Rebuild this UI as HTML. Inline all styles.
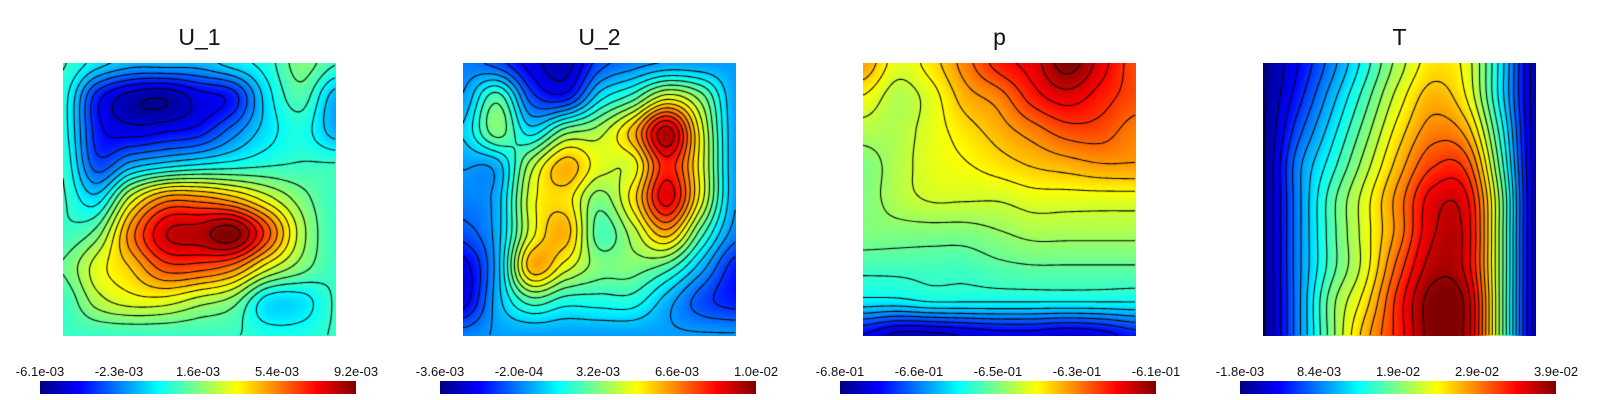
<!DOCTYPE html>
<html><head><meta charset="utf-8"><style>
body{margin:0;width:1600px;height:400px;background:#fff;position:relative;overflow:hidden;font-family:"Liberation Sans",sans-serif}
.panel{position:absolute;top:0;width:400px;height:400px}
.title{position:absolute;top:24px;left:0;width:273px;text-align:center;font-size:23px;color:#111}
canvas.field{position:absolute;top:63px;width:273px;height:273px}
.cbar{position:absolute;top:381px;width:316px;height:13px;background:linear-gradient(to right,#00007f,#0000ff 12.5%,#00ffff 37.5%,#7fff7f 50%,#ffff00 62.5%,#ff0000 87.5%,#7f0000)}
.tick{position:absolute;top:364px;font-size:13px;color:#111;transform:translateX(-50%);white-space:nowrap}
</style></head><body>
<script>
const titles=["U_1","U_2","p","T"];
const tickLabels=[["-6.1e-03","-2.3e-03","1.6e-03","5.4e-03","9.2e-03"],["-3.6e-03","-2.0e-04","3.2e-03","6.6e-03","1.0e-02"],["-6.8e-01","-6.6e-01","-6.5e-01","-6.3e-01","-6.1e-01"],["-1.8e-03","8.4e-03","1.9e-02","2.9e-02","3.9e-02"]];
const gridU1=[[.43,.35,.3,.3,.3,.35,.4,.5,.43],[.4,.15,.05,.03,.1,.15,.35,.45,.3],[.4,.15,.1,.12,.15,.25,.35,.4,.3],[.42,.2,.3,.35,.38,.4,.42,.43,.43],[.43,.35,.6,.75,.75,.7,.6,.5,.43],[.43,.5,.75,.92,.95,1.0,.8,.55,.43],[.48,.6,.68,.8,.8,.75,.6,.5,.43],[.43,.55,.6,.6,.55,.5,.35,.35,.43],[.43,.43,.43,.43,.43,.43,.4,.4,.43]];
const gridU2=[[.25,.2,.1,.05,.2,.25,.28,.28,.28],[.28,.45,.2,.15,.35,.45,.6,.5,.28],[.33,.5,.35,.5,.55,.7,.95,.6,.28],[.28,.3,.55,.7,.6,.6,.85,.6,.28],[.25,.3,.6,.65,.5,.65,.9,.6,.28],[.2,.3,.6,.7,.45,.55,.7,.45,.25],[.1,.3,.7,.6,.5,.5,.45,.3,.15],[.1,.3,.45,.4,.4,.4,.3,.2,.15],[.25,.28,.28,.28,.28,.28,.28,.28,.28]];
const gridP=[[.72,.6,.65,.75,.85,.9,1.0,.9,.8],[.62,.55,.6,.7,.75,.85,.9,.85,.8],[.55,.55,.6,.65,.7,.75,.8,.8,.75],[.5,.55,.6,.62,.65,.68,.7,.72,.72],[.5,.55,.58,.58,.58,.6,.6,.6,.6],[.5,.5,.5,.5,.52,.54,.54,.54,.54],[.44,.44,.44,.44,.46,.47,.47,.47,.47],[.36,.36,.38,.38,.38,.38,.38,.38,.38],[.12,.06,.06,.08,.1,.1,.08,.1,.15]];
const gridT=[[.02,.12,.25,.4,.55,.65,.6,.35,.05],[.02,.15,.3,.45,.6,.7,.62,.35,.05],[.02,.2,.35,.5,.65,.75,.7,.4,.05],[.02,.25,.4,.55,.7,.82,.8,.45,.05],[.02,.25,.45,.6,.75,.9,.88,.5,.05],[.02,.25,.45,.6,.75,.92,.9,.5,.05],[.02,.25,.45,.6,.8,.95,.9,.5,.05],[.02,.25,.5,.65,.85,1.0,.95,.5,.05],[.02,.25,.5,.7,.85,1.0,.95,.5,.05]];
const grids=[gridU1,gridU2,gridP,gridT];
const levelStep=[0.05,0.05,0.05,0.05];

function cr(p0,p1,p2,p3,t){return 0.5*((2*p1)+(-p0+p2)*t+(2*p0-5*p1+4*p2-p3)*t*t+(-p0+3*p1-3*p2+p3)*t*t*t);}
function sample(g,u,v){const n=g.length-1;const x=u*n,y=v*n;let i=Math.min(Math.floor(x),n-1),j=Math.min(Math.floor(y),n-1);const tx=x-i,ty=y-j;
 const G=(r,c)=>g[Math.max(0,Math.min(n,r))][Math.max(0,Math.min(n,c))];const rows=[];
 for(let k=-1;k<3;k++)rows.push(cr(G(j+k,i-1),G(j+k,i),G(j+k,i+1),G(j+k,i+2),tx));
 return Math.max(0,Math.min(1,cr(rows[0],rows[1],rows[2],rows[3],ty)));}
function jet(t){const stops=[[0,0,0,127],[.125,0,0,255],[.375,0,255,255],[.5,127,255,127],[.625,255,255,0],[.875,255,0,0],[1,127,0,0]];
 for(let k=1;k<stops.length;k++)if(t<=stops[k][0]){const a=stops[k-1],b=stops[k],f=(t-a[0])/(b[0]-a[0]);return[a[1]+f*(b[1]-a[1]),a[2]+f*(b[2]-a[2]),a[3]+f*(b[3]-a[3])];}return[127,0,0];}
titles.forEach((t,p)=>{
 const off=p*400;
 const panel=document.createElement('div');panel.className='panel';panel.style.left=off+'px';
 
 
 document.body.appendChild(panel);
 const ti=document.createElement('div');ti.className='title';ti.style.left='63px';ti.textContent=t;
 
 
 panel.appendChild(ti);
 const cv=document.createElement('canvas');cv.className='field';cv.width=273;cv.height=273;cv.style.left='63px';
 
 
 panel.appendChild(cv);
 const ctx=cv.getContext('2d');const img=ctx.createImageData(273,273);const g=grids[p];
 for(let y=0;y<273;y++)for(let x=0;x<273;x++){const c=jet(sample(g,x/272,y/272));const o=(y*273+x)*4;img.data[o]=c[0];img.data[o+1]=c[1];img.data[o+2]=c[2];img.data[o+3]=255;}
 ctx.putImageData(img,0,0);
 const N=136,F=[];for(let j=0;j<=N;j++){F.push([]);for(let i=0;i<=N;i++)F[j].push(sample(g,i/N,j/N));}
 const s=272/N;ctx.strokeStyle='#000';ctx.lineWidth=1.1;ctx.beginPath();
 for(let L=levelStep[p]/2;L<1;L+=levelStep[p]){
  for(let j=0;j<N;j++)for(let i=0;i<N;i++){
   const a=F[j][i],b=F[j][i+1],c=F[j+1][i+1],d=F[j+1][i];const pts=[];
   const e=(v1,v2,x1,y1,x2,y2)=>{if((v1<L)!==(v2<L)){const f=(L-v1)/(v2-v1);pts.push([(x1+f*(x2-x1))*s,(y1+f*(y2-y1))*s]);}};
   e(a,b,i,j,i+1,j);e(b,c,i+1,j,i+1,j+1);e(d,c,i,j+1,i+1,j+1);e(a,d,i,j,i,j+1);
   for(let k=0;k+1<pts.length;k+=2){ctx.moveTo(pts[k][0],pts[k][1]);ctx.lineTo(pts[k+1][0],pts[k+1][1]);}
  }}
 ctx.stroke();
 const cb=document.createElement('div');cb.className='cbar';cb.style.left='40px';
 
 
 panel.appendChild(cb);
 tickLabels[p].forEach((lab,k)=>{const d=document.createElement('div');d.className='tick';d.style.left=(40+k*316/4)+'px';d.textContent=lab;
  
  
  panel.appendChild(d);});
});
</script>
</body></html>
